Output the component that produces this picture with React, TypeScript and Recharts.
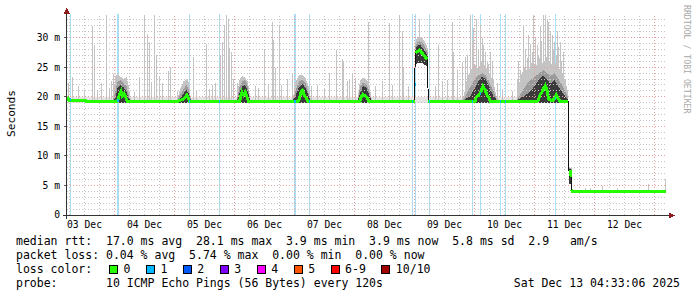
import React from "react";
import { Area, ComposedChart, Line, ReferenceLine, XAxis, YAxis } from "recharts";

const MONO = "'DejaVu Sans Mono', 'Liberation Mono', monospace";

// x axis: hours since 03 Dec 00:00
const timeDomain: [number, number] = [5.0, 245.0];
const dayTicks = [12, 36, 60, 84, 108, 132, 156, 180, 204, 228];
const dayLabels = ["03 Dec", "04 Dec", "05 Dec", "06 Dec", "07 Dec", "08 Dec", "09 Dec", "10 Dec", "11 Dec", "12 Dec"];
const rttTicks = [0, 5, 10, 15, 20, 25, 30];
const rttMax = 34;

// median rtt in ms: [hour, value]
const medianPoints: [number, number][] = [
  [5.1, 20.0], [5.8, 19.3], [25.0, 19.25], [25.5, 19.6], [26.0, 20.4], [26.6, 20.9], [27.1, 20.1], [27.8, 20.5], [28.4, 20.0], [29.1, 19.25],
  [49.5, 19.25], [51.9, 19.7], [52.9, 20.3], [53.5, 19.9], [53.9, 19.25],
  [74.0, 19.25], [74.3, 19.7], [75.0, 20.8], [75.6, 20.3], [76.3, 20.8], [77.0, 20.0], [77.6, 19.25],
  [97.5, 19.25], [97.9, 19.6], [98.6, 20.8], [99.2, 21.1], [99.9, 20.3], [100.6, 19.9], [101.4, 19.25],
  [122.2, 19.25], [122.6, 19.9], [123.4, 20.4], [124.3, 20.1], [125.0, 19.9], [125.8, 19.25],
  [144.0, 19.25], [144.1, 22.1], [144.3, 27.4], [145.0, 27.6], [146.0, 27.9], [146.8, 27.5], [147.6, 27.1], [148.7, 26.5], [149.3, 26.6], [149.45, 19.25],
  [168.3, 19.25], [168.7, 19.9], [169.6, 20.2], [170.6, 20.9], [171.4, 21.8], [172.2, 21.2], [173.0, 20.3], [173.8, 19.8], [174.3, 19.25],
  [193.2, 19.25], [193.6, 19.5], [194.3, 20.4], [195.0, 20.8], [195.6, 21.4], [196.3, 21.9], [197.0, 21.1], [197.6, 19.6], [199.0, 19.3], [200.0, 19.7], [200.7, 20.3], [201.4, 19.7], [202.3, 19.2],
  [205.5, 19.2], [205.65, 7.8], [206.2, 6.5], [206.6, 7.6], [206.9, 4.3], [207.1, 3.94], [244.6, 3.94],
];
// points where the loss-coloured median starts a new piece (the jump itself stays black)
const medianJumps = [144.1, 144.3, 149.45, 205.65, 206.2, 206.9];

// samples with 1/10 packet loss: [from, to, median]
const lossEvents: [number, number, number][] = [
  [6.1, 6.5, 19.6], [25.0, 25.8, 19.4], [53.7, 54.1, 19.25], [65.6, 66.0, 19.25], [95.9, 96.7, 19.25],
  [101.6, 102.0, 19.25], [142.8, 143.2, 19.25], [144.0, 144.4, 22.1], [149.6, 150.0, 19.25], [166.9, 167.3, 19.25],
  [170.1, 170.5, 20.6], [178.2, 178.6, 19.25], [180.2, 180.6, 19.25], [200.0, 200.4, 19.7],
];

// single smoke outliers: [hour, low, high]
const smokeSpikes: [number, number, number][] = [
  [5.4, 19.3, 22.3], [7.2, 19.3, 23.4], [9.4, 19.3, 21.8], [11.9, 19.3, 21.2], [15.1, 19.3, 32.0], [16.0, 19.3, 28.7],
  [17.1, 19.3, 21.0], [18.7, 19.3, 22.3], [20.8, 19.3, 33.8], [21.8, 19.3, 21.5], [22.7, 19.3, 22.6], [23.5, 19.3, 23.8],
  [31.8, 19.3, 20.8], [34.0, 19.3, 23.4], [36.0, 19.3, 33.8], [37.1, 19.3, 30.7], [38.0, 19.3, 29.3], [38.8, 19.3, 22.5],
  [40.0, 19.3, 33.8], [40.8, 19.3, 27.1], [41.8, 19.3, 23.4], [43.1, 19.3, 22.3], [45.5, 19.3, 24.3], [46.4, 19.3, 25.1],
  [49.1, 19.3, 21.0], [55.5, 19.3, 26.8], [56.7, 19.3, 21.0], [60.8, 19.3, 29.0], [61.8, 19.3, 21.3],
  [63.0, 19.3, 22.0], [64.3, 19.3, 22.3], [66.4, 19.3, 27.1], [67.2, 19.3, 29.3], [68.0, 19.3, 32.2], [68.6, 19.3, 33.8],
  [69.4, 19.3, 33.2], [70.0, 19.3, 28.2], [70.7, 19.3, 27.6], [71.5, 19.3, 23.0], [73.0, 19.3, 22.3], [80.3, 19.3, 21.8],
  [81.6, 19.3, 21.5], [84.0, 19.3, 27.9], [85.6, 19.3, 22.0], [87.0, 19.3, 32.7], [87.6, 19.3, 29.6], [88.3, 19.3, 24.8],
  [89.9, 19.3, 32.2], [90.7, 19.3, 22.0], [93.0, 19.3, 23.0], [95.2, 19.3, 24.0], [102.7, 19.3, 21.8], [105.0, 19.3, 22.0],
  [107.9, 19.3, 21.3], [109.9, 19.3, 24.0], [112.7, 19.3, 27.9], [115.0, 19.3, 26.4], [115.6, 19.3, 26.0], [117.0, 19.3, 22.6],
  [117.9, 19.3, 23.0], [119.2, 19.3, 24.0], [120.3, 19.3, 23.1], [125.6, 19.3, 32.7], [128.3, 19.3, 21.8], [131.0, 19.3, 22.6],
  [133.9, 19.3, 32.4], [135.0, 19.3, 22.0], [138.0, 19.3, 33.8], [139.0, 19.3, 31.1], [139.6, 19.3, 25.1], [141.6, 19.3, 21.8],
  [145.9, 27.5, 33.2], [152.3, 19.3, 21.8], [153.6, 19.3, 28.8], [155.0, 19.3, 22.6], [157.0, 19.3, 22.8], [159.0, 19.3, 32.7],
  [159.6, 19.3, 27.6], [161.0, 19.3, 24.6], [163.0, 19.3, 25.9], [164.3, 19.3, 26.7], [165.3, 19.3, 27.0], [166.3, 19.3, 33.8],
  [167.0, 19.3, 29.5], [167.6, 19.3, 31.6], [168.7, 19.3, 33.2], [169.5, 19.3, 28.0], [170.3, 19.3, 32.2], [171.0, 19.3, 30.0],
  [171.6, 19.3, 28.8], [172.3, 19.3, 27.5], [173.0, 19.3, 26.0], [173.7, 19.3, 25.5], [174.3, 19.3, 27.6], [175.0, 19.3, 26.0],
  [175.6, 19.3, 23.0], [177.0, 19.3, 22.3], [179.1, 19.3, 21.3], [183.0, 19.3, 21.0], [185.1, 19.3, 23.0], [185.7, 19.3, 26.0],
  [186.3, 19.3, 24.6], [187.6, 19.3, 31.9], [188.3, 19.3, 28.0], [189.0, 19.3, 26.5], [189.6, 19.3, 30.5], [190.3, 19.3, 29.0],
  [191.0, 19.3, 27.5], [191.6, 19.3, 33.8], [192.3, 19.3, 30.0], [193.0, 19.3, 28.8], [193.6, 19.3, 27.0], [194.3, 19.3, 31.9],
  [194.9, 19.3, 29.5], [195.6, 19.3, 33.8], [196.3, 19.3, 33.8], [197.0, 19.3, 33.2], [197.6, 19.3, 32.7], [198.3, 19.3, 31.0],
  [199.0, 19.3, 30.5], [199.6, 19.3, 28.0], [200.0, 19.3, 29.3], [200.6, 19.3, 27.0], [201.0, 19.3, 31.1], [201.6, 19.3, 28.5],
  [202.3, 19.3, 29.3], [202.9, 19.3, 26.0], [203.4, 19.3, 27.6], [204.3, 19.3, 23.0],
  [212.3, 3.94, 4.6], [214.3, 3.94, 4.5], [219.1, 3.94, 4.9], [225.1, 3.94, 4.6], [237.5, 3.94, 5.2], [244.3, 3.94, 6.1],
];

// smoke clusters: [hour, low, outer high, mid high, dark high]
const smokeDec04: number[][] = [
  [23.5, 19.0, 20.5, 19.6, 19.4], [24.4, 19.0, 23.5, 21.0, 19.8], [25.2, 19.0, 23.8, 22.5, 21.5], [26.4, 19.0, 23.4, 22.8, 22.0],
  [27.6, 19.0, 23.0, 22.4, 21.6], [28.8, 19.0, 23.3, 21.8, 20.8], [29.6, 19.0, 22.0, 20.5, 19.8], [30.4, 19.0, 19.8, 19.5, 19.4],
];
const smokeDec05: number[][] = [
  [49.2, 19.0, 19.8, 19.5, 19.4], [50.4, 19.0, 21.5, 20.4, 19.8], [51.6, 19.0, 22.6, 21.3, 20.5],
  [52.8, 19.0, 23.0, 22.0, 21.2], [53.8, 19.0, 22.4, 21.2, 20.4], [54.5, 19.0, 19.8, 19.5, 19.4],
];
const smokeDec06: number[][] = [
  [73.0, 19.0, 19.8, 19.5, 19.4], [73.9, 19.0, 22.8, 21.5, 20.5], [75.0, 19.0, 23.5, 22.6, 21.8],
  [76.2, 19.0, 23.3, 22.8, 22.0], [77.3, 19.0, 22.6, 21.8, 21.0], [78.3, 19.0, 19.8, 19.5, 19.4],
];
const smokeDec07: number[][] = [
  [95.4, 19.0, 19.8, 19.5, 19.4], [96.4, 19.0, 22.5, 21.0, 20.2], [97.8, 19.0, 23.6, 22.6, 21.6], [99.2, 19.0, 23.7, 22.9, 22.2],
  [100.6, 19.0, 23.0, 22.2, 21.3], [101.8, 19.0, 21.5, 20.4, 19.9], [102.4, 19.0, 19.8, 19.5, 19.4],
];
const smokeDec08: number[][] = [
  [121.3, 19.0, 19.8, 19.5, 19.4], [122.2, 19.0, 22.8, 21.6, 20.6], [123.4, 19.0, 23.2, 22.4, 21.8],
  [124.6, 19.0, 23.0, 22.2, 21.6], [125.8, 19.0, 22.4, 21.2, 20.4], [126.8, 19.0, 19.8, 19.5, 19.4],
];
const smokeStep: number[][] = [
  [144.2, 25.6, 29.0, 28.3, 27.8], [145.0, 25.6, 30.0, 29.2, 28.6], [146.2, 25.8, 30.2, 29.4, 28.8],
  [147.4, 25.6, 29.8, 29.0, 28.2], [148.6, 25.3, 29.0, 28.2, 27.4], [149.4, 25.2, 28.0, 27.3, 26.8],
];
const smokeDec10: number[][] = [
  [163.5, 19.0, 19.8, 19.5, 19.4], [165.0, 19.0, 23.0, 20.6, 19.8], [166.5, 19.0, 24.5, 21.8, 20.2], [168.0, 19.0, 25.5, 23.0, 21.4],
  [169.5, 19.0, 24.8, 23.6, 22.6], [171.0, 19.0, 26.0, 24.0, 23.4], [172.5, 19.0, 25.0, 23.6, 23.0], [174.0, 19.0, 24.0, 22.5, 21.6],
  [175.5, 19.0, 22.5, 21.0, 20.2], [177.0, 19.0, 19.8, 19.5, 19.4],
];
const smokeDec11: number[][] = [
  [185.0, 19.0, 19.8, 19.5, 19.4], [186.5, 19.0, 23.5, 20.5, 19.8], [188.0, 19.0, 25.0, 21.5, 20.2], [189.5, 19.0, 24.0, 22.5, 20.6],
  [191.0, 19.0, 26.0, 23.0, 21.2], [192.5, 19.0, 25.0, 23.5, 22.2], [194.0, 19.0, 26.5, 24.0, 23.0], [195.5, 19.0, 25.5, 24.5, 23.6],
  [197.0, 19.0, 27.0, 24.0, 23.0], [198.5, 19.0, 25.5, 23.5, 22.2], [200.0, 19.0, 26.0, 24.0, 22.8], [201.5, 19.0, 25.0, 23.0, 21.8],
  [203.0, 19.0, 24.0, 22.0, 20.8], [204.5, 19.0, 22.5, 20.8, 20.0], [205.5, 19.0, 20.5, 19.8, 19.5],
];
const smokeDrop: number[][] = [
  [205.65, 5.2, 8.1, 8.0, 7.9], [206.85, 5.2, 7.9, 7.8, 7.6],
];
const smokeFloor: number[][][] = [
  [[5.1, 19.0, 19.9], [205.5, 19.0, 19.9]],
  [[207.1, 3.7, 4.2], [244.6, 3.7, 4.2]],
];

const medianStats = ["17.0 ms avg", "28.1 ms max", "3.9 ms min", "3.9 ms now", "5.8 ms sd", "2.9   am/s"];
const lossStats = ["0.04 % avg", "5.74 % max", "0.00 % min", "0.00 % now"];
const lossLabels = ["0", "1", "2", "3", "4", "5", "6-9", "10/10"];
const lossColors = ["#26ff00", "#00b8ff", "#0059ff", "#7e00ff", "#ff00ff", "#ff5500", "#ff0000", "#a10000"];
const probeText = "10 ICMP Echo Pings (56 Bytes) every 120s";
const stampText = "Sat Dec 13 04:33:06 2025";

// ---- tables for the series
const medianRows: any[] = [];
medianPoints.forEach(([t, v]) => {
  if (medianJumps.includes(t)) medianRows.push({ t, median: null, green: null });
  medianRows.push({ t, median: v, green: v });
});

const rect = (t0: number, t1: number, lo: number, hi: number) => [
  { t: t0, r: [lo, lo] },
  { t: t0, r: [lo, hi] },
  { t: t1, r: [lo, hi] },
  { t: t1, r: [lo, lo] },
];
const spikeRows = smokeSpikes.flatMap(([t, lo, hi]) => rect(t - 0.2, t + 0.2, lo, hi));
const lossRows = lossEvents.flatMap(([a, b]) => rect(a, b, 0, rttMax));
const lossMedianRows = lossEvents.flatMap(([a, b, v]) => [{ t: a, v }, { t: b, v }, { t: b, v: null }]);

const clusters = [smokeDec04, smokeDec05, smokeDec06, smokeDec07, smokeDec08, smokeStep, smokeDec10, smokeDec11, smokeDrop];
const bandRows = (k: number) =>
  clusters.flatMap((c) => {
    const a = c[0];
    const z = c[c.length - 1];
    return [{ t: a[0], r: [a[1], a[1]] }, ...c.map((p) => ({ t: p[0], r: [p[1], p[k]] })), { t: z[0], r: [z[1], z[1]] }];
  });
const floorRows = smokeFloor.flatMap((f) => {
  const a = f[0];
  const z = f[f.length - 1];
  return [{ t: a[0], r: [a[1], a[1]] }, ...f.map((p) => ({ t: p[0], r: [p[1], p[2]] })), { t: z[0], r: [z[1], z[1]] }];
});

const hourGrid = Array.from({ length: 40 }, (_, i) => (i + 1) * 6);
const msGrid = Array.from({ length: 33 }, (_, i) => i + 1);
const MINOR = "#c4c4c4";
const MAJOR = "#e6a0a0";

// keep runs of spaces in svg text
const pre = (s: string) => s.replace(/ /g, "\u00a0");

function Legend() {
  const boxes: React.ReactNode[] = [];
  let x = 109;
  lossLabels.forEach((label, i) => {
    boxes.push(
      <rect key={"b" + i} x={x + 0.5} y={265.5} width={8} height={8} fill={lossColors[i]} stroke="#000" strokeWidth={1} />
    );
    boxes.push(
      <text key={"t" + i} x={x + 14.5} y={273}>
        {label}
      </text>
    );
    x = x + 14.5 + label.length * 6.93 + 15.5;
  });
  return (
    <svg width={697} height={297} style={{ position: "absolute", left: 0, top: 0, pointerEvents: "none" }}>
      <line x1={66.5} y1={219} x2={66.5} y2={12} stroke="#333" />
      <line x1={63} y1={215.5} x2={669} y2={215.5} stroke="#333" />
      <polygon points="63.5,13.5 69.5,13.5 66.5,7.5" fill="#8a1c1c" />
      <polygon points="668.5,212.5 668.5,218.5 674.5,215.5" fill="#8a1c1c" />
      <text transform="translate(15,113.5) rotate(-90)" textAnchor="middle" fontFamily={MONO} fontSize={11.2} fill="#000">
        Seconds
      </text>
      <text transform="translate(684,5) rotate(90)" fontFamily={MONO} fontSize={8.2} fill="#a8a8a8">
        RRDTOOL / TOBI OETIKER
      </text>
      <g fontFamily={MONO} fontSize={11.5} fill="#000">
        <text x={16} y={245}>{pre("median rtt:  " + medianStats.join("  "))}</text>
        <text x={16} y={259}>{pre("packet loss: " + lossStats.join("  "))}</text>
        <text x={16} y={273}>loss color:</text>
        {boxes}
        <text x={16} y={287}>{pre("probe:       " + probeText)}</text>
        <text x={680} y={287} textAnchor="end">
          {stampText}
        </text>
      </g>
    </svg>
  );
}

export default function App() {
  return (
    <div
      style={{
        position: "fixed",
        left: 0,
        top: 0,
        width: 697,
        height: 297,
        background: "#fff",
        shapeRendering: "crispEdges",
      }}
    >
      <ComposedChart width={697} height={297} data={medianRows} margin={{ top: 14, right: 30, bottom: 62, left: 27 }}>
        <XAxis
          type="number"
          dataKey="t"
          domain={timeDomain}
          allowDataOverflow
          ticks={dayTicks}
          interval={0}
          tickFormatter={(v: number) => dayLabels[dayTicks.indexOf(v)]}
          axisLine={false}
          tickLine={false}
          tickSize={0}
          tickMargin={6}
          height={20}
          tick={{ fill: "#000", fontSize: 9.7, fontFamily: MONO }}
        />
        <YAxis
          type="number"
          domain={[0, rttMax]}
          allowDataOverflow
          ticks={rttTicks}
          interval={0}
          tickFormatter={(v: number) => (v === 0 ? "0" : `${v} m`)}
          axisLine={false}
          tickLine={{ stroke: "#555" }}
          tickSize={3}
          tickMargin={4}
          width={40}
          tick={{ fill: "#000", fontSize: 9.7, fontFamily: MONO }}
        />
        <Area data={lossRows} dataKey="r" type="linear" stroke="none" fill="#a8e0f6" fillOpacity={1} isAnimationActive={false} dot={false} activeDot={false} />
        <Area data={floorRows} dataKey="r" type="linear" stroke="none" fill="#e4e4e4" fillOpacity={1} isAnimationActive={false} dot={false} activeDot={false} />
        <Area data={spikeRows} dataKey="r" type="linear" stroke="none" fill="#c4c4c4" fillOpacity={1} isAnimationActive={false} dot={false} activeDot={false} />
        <Area data={bandRows(2)} dataKey="r" type="linear" stroke="none" fill="#c4c4c4" fillOpacity={1} isAnimationActive={false} dot={false} activeDot={false} />
        <Area data={bandRows(3)} dataKey="r" type="linear" stroke="none" fill="#9a9a9a" fillOpacity={1} isAnimationActive={false} dot={false} activeDot={false} />
        <Area data={bandRows(4)} dataKey="r" type="linear" stroke="none" fill="#3a3a3a" fillOpacity={1} isAnimationActive={false} dot={false} activeDot={false} />
        {hourGrid.map((h) => (
          <ReferenceLine key={"v" + h} x={h} stroke={h % 24 === 0 ? MAJOR : MINOR} strokeDasharray="1 2" />
        ))}
        {msGrid.map((m) => (
          <ReferenceLine key={"h" + m} y={m} stroke={m % 5 === 0 ? MAJOR : MINOR} strokeDasharray="1 2" />
        ))}
        <Line dataKey="median" type="linear" stroke="#111" strokeWidth={1} connectNulls dot={false} activeDot={false} isAnimationActive={false} />
        <Line dataKey="green" type="linear" stroke={lossColors[0]} strokeWidth={3} connectNulls={false} dot={false} activeDot={false} isAnimationActive={false} />
        <Line data={lossMedianRows} dataKey="v" type="linear" stroke={lossColors[1]} strokeWidth={3} connectNulls={false} dot={false} activeDot={false} isAnimationActive={false} />
      </ComposedChart>
      <Legend />
    </div>
  );
}
